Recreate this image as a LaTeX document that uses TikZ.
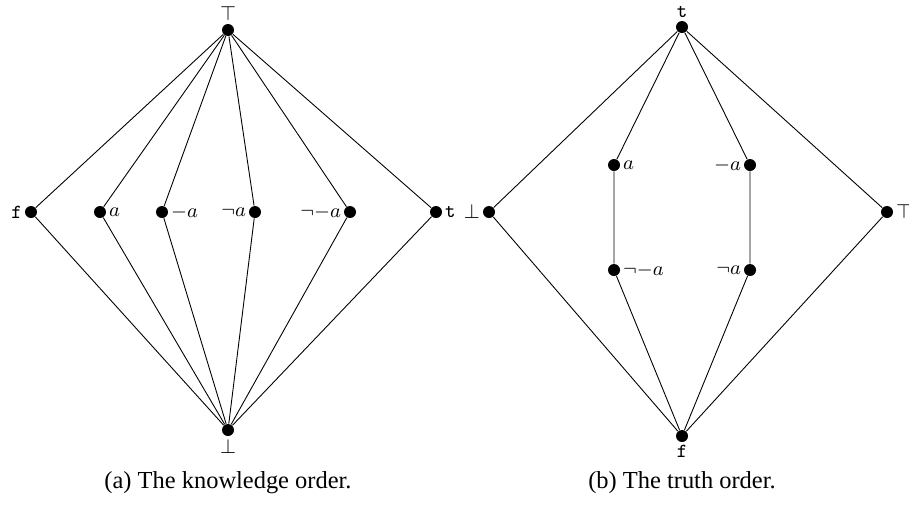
\documentclass[tikz,border=0pt]{standalone}
\usepackage{fontspec}
\setmainfont{Liberation Serif}
\usepackage{tikz}
\usetikzlibrary{calc}

\tikzset{
  elem/.style={circle,fill=black,inner sep=0pt,minimum size=5.4pt},
  captext/.style={font=\fontsize{11}{13}\selectfont},
  every label/.style={inner sep=1pt,font=\fontsize{9}{10}\selectfont}
}

\begin{document}
\begin{tikzpicture}[x=0.45pt,y=-0.45pt,label distance=0pt]
   \useasboundingbox (0,0) rectangle (909,506);
   % knowledge order
   \node[elem,label=above:$\top$] (ktop) at (228,30) {};
   \node[elem,label=below:$\bot$] (kbot) at (228,430) {};
   \node[elem,label=left:$\mathtt{f}$] (kf) at (31,212) {};
   \node[elem,label=right:$a$] (ka) at (100,212) {};
   \node[elem,label=right:$-a$] (kma) at (162,212) {};
   \node[elem,label=left:$\neg a$] (kna) at (255,212) {};
   \node[elem,label=left:$\neg{-a}$] (knma) at (350,212) {};
   \node[elem,label=right:$\mathtt{t}$] (kt) at (436,212) {};
   \foreach \n in {kf,ka,kma,kna,knma,kt}{
     \draw (ktop)--(\n)--(kbot);
   }
   \node[captext] (capa) at (228,483) {(a) The knowledge order.};
   % truth order
   \node[elem,label=above:$\mathtt{t}$] (tt) at (682,27) {};
   \node[elem,label=below:$\mathtt{f}$] (tf) at (682,436) {};
   \node[elem,label=left:$\bot$] (tbot) at (489,212) {};
   \node[elem,label=right:$\top$] (ttop) at (887,212) {};
   \node[elem,label=right:$a$] (ta) at (614,165) {};
   \node[elem,label=left:$-a$] (tma) at (750,165) {};
   \node[elem,label=right:$\neg{-a}$] (tnma) at (614,270) {};
   \node[elem,label=left:$\neg a$] (tna) at (750,270) {};
   \draw (tt)--(tbot)--(tf);
   \draw (tt)--(ttop)--(tf);
   \draw (tt)--(ta)--(tnma)--(tf);
   \draw (tt)--(tma)--(tna)--(tf);
   \node[captext] (capb) at (682,483) {(b) The truth order.};
\end{tikzpicture}
\end{document}
